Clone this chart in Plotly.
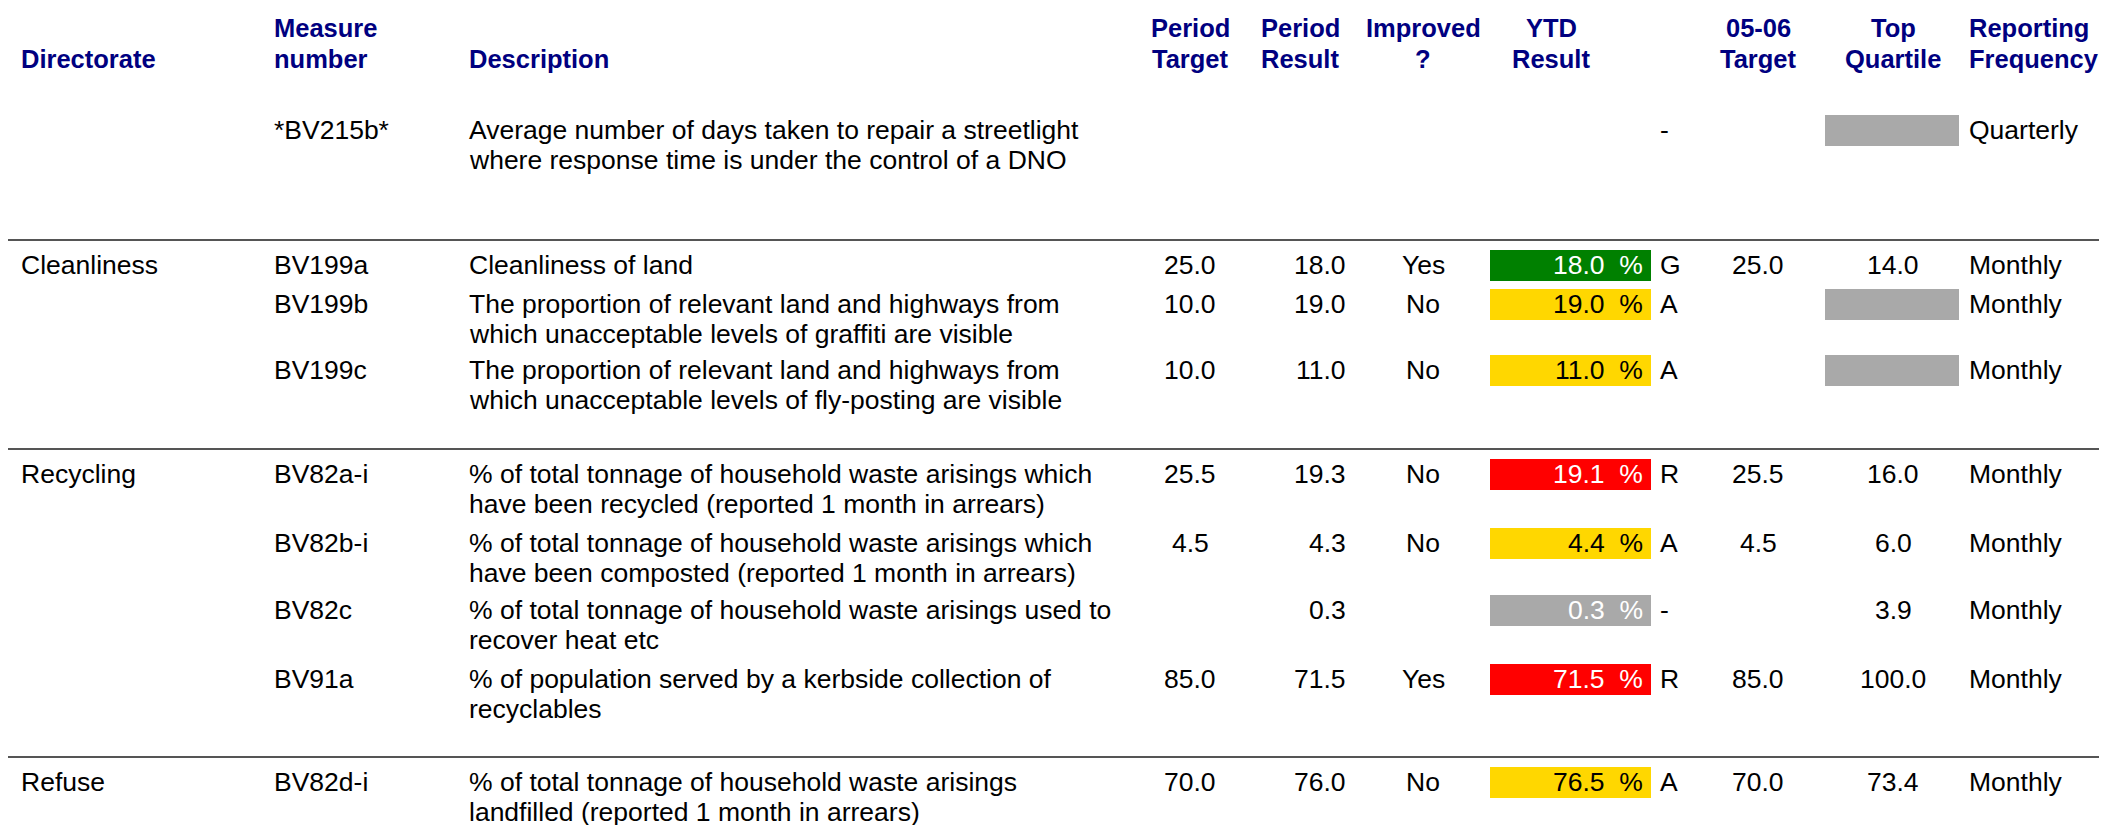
import plotly.graph_objects as go

# ---------------- data ----------------
headers_line1 = ["", "Measure", "", "Period", "Period", "Improved", "YTD", "05-06", "Top", "Reporting"]
headers_line2 = ["Directorate", "number", "Description", "Target", "Result", "?", "Result", "Target", "Quartile", "Frequency"]

directorate = ["", "Cleanliness", "", "", "Recycling", "", "", "", "Refuse"]
measure = ["*BV215b*", "BV199a", "BV199b", "BV199c", "BV82a-i", "BV82b-i", "BV82c", "BV91a", "BV82d-i"]
desc_line1 = [
    "Average number of days taken to repair a streetlight",
    "Cleanliness of land",
    "The proportion of relevant land and highways from",
    "The proportion of relevant land and highways from",
    "% of total tonnage of household waste arisings which",
    "% of total tonnage of household waste arisings which",
    "% of total tonnage of household waste arisings used to",
    "% of population served by a kerbside collection of",
    "% of total tonnage of household waste arisings",
]
desc_line2 = [
    "where response time is under the control of a DNO",
    "",
    "which unacceptable levels of graffiti are visible",
    "which unacceptable levels of fly-posting are visible",
    "have been recycled (reported 1 month in arrears)",
    "have been composted (reported 1 month in arrears)",
    "recover heat etc",
    "recyclables",
    "landfilled (reported 1 month in arrears)",
]
period_target = [None, 25.0, 10.0, 10.0, 25.5, 4.5, None, 85.0, 70.0]
period_result = [None, 18.0, 19.0, 11.0, 19.3, 4.3, 0.3, 71.5, 76.0]
improved = ["", "Yes", "No", "No", "No", "No", "", "Yes", "No"]
ytd_result = [None, 18.0, 19.0, 11.0, 19.1, 4.4, 0.3, 71.5, 76.5]
rag = ["-", "G", "A", "A", "R", "A", "-", "R", "A"]
target_0506 = [None, 25.0, None, None, 25.5, 4.5, None, 85.0, 70.0]
top_quartile = [None, 14.0, None, None, 16.0, 6.0, 3.9, 100.0, 73.4]
frequency = ["Quarterly", "Monthly", "Monthly", "Monthly", "Monthly", "Monthly", "Monthly", "Monthly", "Monthly"]

# ---------------- layout / style ----------------
W, H = 2107, 825
OFF = 8  # page body margin
FONT = "Liberation Sans, Arial, Helvetica, sans-serif"
FS = 26.5
FS_HDR = 25.5
NAVY = "#000080"
row_y = [130, 265, 304, 370, 474, 543, 610, 679, 782]
line_gap = 29.5
sep_y = [240, 449, 757]
hdr_y1, hdr_y2 = 28, 59
col_x = {
    "dir": 20, "meas": 273, "desc": 468, "pt": 1190, "pr": 1347, "imp": 1423,
    "ytd": 1644, "rag": 1659, "t0506": 1758, "tq": 1893, "freq": 1968,
}
hdr_pos = [(20, "left"), (273, "left"), (468, "left"), (1190, "center"), (1300, "center"),
           (1423, "center"), (1551, "center"), (1758, "center"), (1893, "center"), (1968, "left")]
ytd_box = (1490, 1651)
tq_box = (1825, 1959)
box_h = 31
rag_colors = {"G": "#008000", "A": "#FFD700", "R": "#FF0000", "-": "#A9A9A9"}
rag_text = {"G": "white", "A": "black", "R": "white", "-": "white"}

ann = []

def add(x, y, text, anchor, color="black", bold=False):
    if text is None or text == "":
        return
    ann.append(dict(x=x, y=y, xref="x", yref="y", text=(f"<b>{text}</b>" if bold else text),
                    showarrow=False, xanchor=anchor, yanchor="middle",
                    font=dict(family=FONT, size=(FS_HDR if bold else FS), color=color),
                    borderpad=0))

for (x, a), l1, l2 in zip(hdr_pos, headers_line1, headers_line2):
    add(x, hdr_y1, l1, a, NAVY, True)
    add(x, hdr_y2, l2, a, NAVY, True)

fmt = lambda v: None if v is None else f"{v:.1f}"

for i, y in enumerate(row_y):
    add(col_x["dir"], y, directorate[i], "left")
    add(col_x["meas"], y, measure[i], "left")
    add(col_x["desc"], y, desc_line1[i], "left")
    add(col_x["desc"], y + line_gap, desc_line2[i], "left")
    add(col_x["pt"], y, fmt(period_target[i]), "center")
    add(col_x["pr"], y, fmt(period_result[i]), "right")
    add(col_x["imp"], y, improved[i], "center")
    if ytd_result[i] is not None:
        add(col_x["ytd"], y, f"{ytd_result[i]:.1f}\u00a0\u00a0%", "right", rag_text[rag[i]])
    add(col_x["rag"], y, rag[i], "left")
    add(col_x["t0506"], y, fmt(target_0506[i]), "center")
    add(col_x["tq"], y, fmt(top_quartile[i]), "center")
    add(col_x["freq"], y, frequency[i], "left")

fig = go.Figure()

# YTD coloured cells
ytd_rows = [i for i, v in enumerate(ytd_result) if v is not None]
fig.add_trace(go.Bar(
    orientation="h",
    y=[row_y[i] for i in ytd_rows],
    x=[ytd_box[1] - ytd_box[0]] * len(ytd_rows),
    base=ytd_box[0], width=box_h,
    marker=dict(color=[rag_colors[rag[i]] for i in ytd_rows], line=dict(width=0)),
    hoverinfo="skip", showlegend=False,
))
# Top quartile missing cells (grey)
tq_rows = [i for i, v in enumerate(top_quartile) if v is None]
fig.add_trace(go.Bar(
    orientation="h",
    y=[row_y[i] for i in tq_rows],
    x=[tq_box[1] - tq_box[0]] * len(tq_rows),
    base=tq_box[0], width=box_h,
    marker=dict(color="#A9A9A9", line=dict(width=0)),
    hoverinfo="skip", showlegend=False,
))

shapes = [dict(type="line", xref="x", yref="y", x0=4, x1=W, y0=sy, y1=sy,
               line=dict(color="#555555", width=2)) for sy in sep_y]

fig.update_layout(
    width=W - OFF, height=H - OFF, margin=dict(l=0, r=0, t=0, b=0),
    paper_bgcolor="white", plot_bgcolor="white",
    xaxis=dict(range=[OFF, W], visible=False, fixedrange=True),
    yaxis=dict(range=[H, OFF], visible=False, fixedrange=True),
    annotations=ann, shapes=shapes, barmode="overlay", bargap=0,
)

fig.write_html("out.html")
